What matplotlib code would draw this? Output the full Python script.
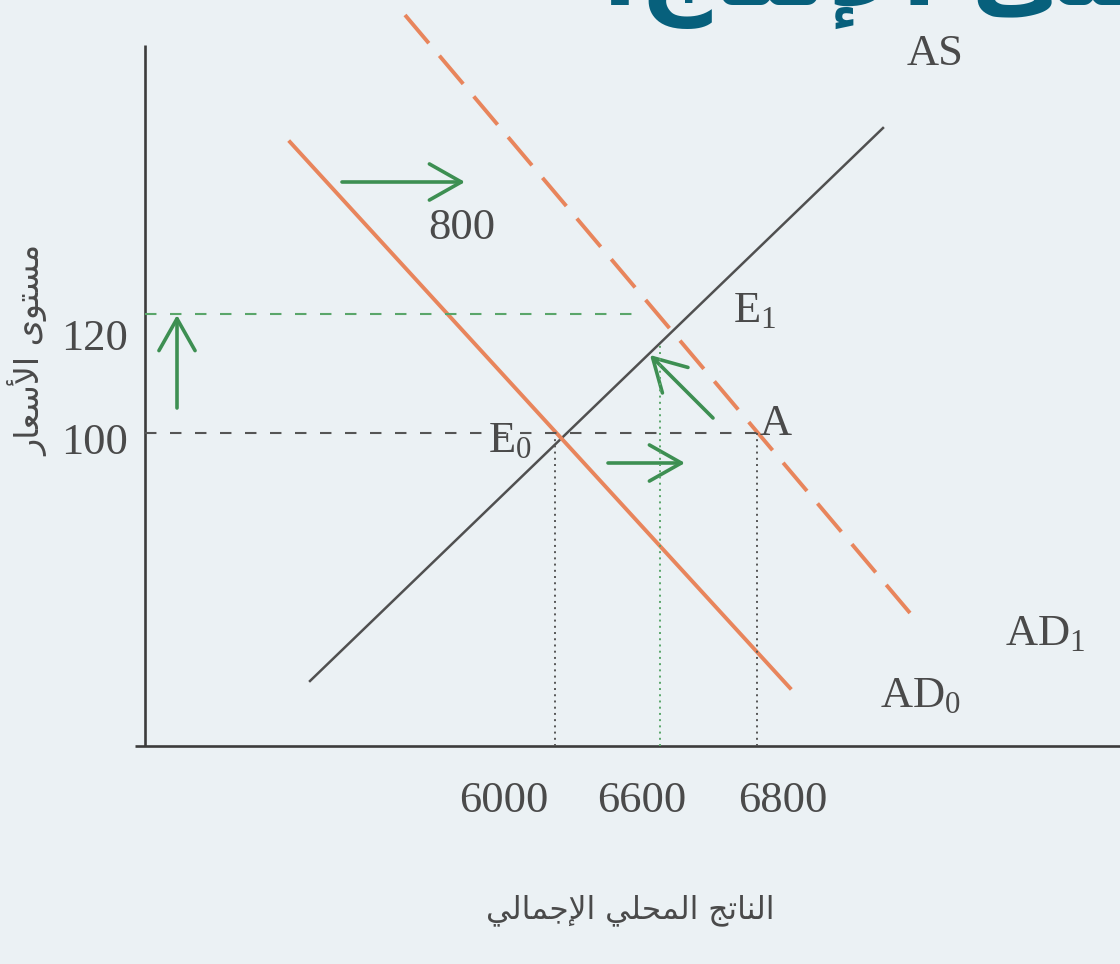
import matplotlib
matplotlib.use("Agg")
import matplotlib.pyplot as plt
from matplotlib.patches import FancyArrowPatch

# ---------------- data (schematic AS/AD diagram, axis units) ----------------
gdp_labels = ["6000", "6600", "6800"]
price_labels = ["100", "120"]
shift_label = "800"

as_x = [165, 738]
as_y = [65, 618]
ad0_x = [145, 645]
ad0_y = [604, 58]
ad1_x = [260, 765]
ad1_y = [731, 133]

q_e0, q_e1, q_a = 410, 515, 612      # output levels of E0, E1, A
p_100, p_120 = 313, 432              # price levels
e1_drop_top = 401

# Arabic text (logical order, contextual presentation forms)
ylabel_logical = "\uFEE3\uFEB4\uFE98\uFEEE\uFEEF \uFE8D\uFEF7\uFEB3\uFECC\uFE8E\uFEAD"
xlabel_logical = ("\uFE8D\uFEDF\uFEE8\uFE8E\uFE97\uFE9E \uFE8D\uFEDF\uFEE4\uFEA4\uFEE0\uFEF2 "
                  "\uFE8D\uFEF9\uFE9F\uFEE4\uFE8E\uFEDF\uFEF2")
title_logical = "\uFECB\uFEE0\uFEF0 \uFE8D\uFEF9\uFEE7\uFE98\uFE8E\uFE9D:"

def visual(s):
    return s[::-1]

# ---------------- styling ----------------
plt.rcParams['mathtext.fontset'] = 'custom'
plt.rcParams['mathtext.rm'] = 'Liberation Serif'
plt.rcParams['mathtext.it'] = 'Liberation Serif:italic'

BG = '#ebf1f4'
INK = '#4a4a4a'
AXC = '#3c3c3c'
ORANGE = '#e8855c'
GREEN = '#3d8f52'
GREEN_L = '#5aa66a'
TEAL = '#07607c'
SERIF = 'Liberation Serif'

W, H = 1120, 964
fig = plt.figure(figsize=(W / 100, H / 100), dpi=100, facecolor=BG)
ax = fig.add_axes([145 / W, 218 / H, 975 / W, 701 / H])
ax.set_facecolor('none')
ax.set_xlim(0, 975)
ax.set_ylim(0, 701)
for s in ax.spines.values():
    s.set_visible(False)

# axes lines
ax.plot([0, 0], [0, 701], color=AXC, lw=1.9, clip_on=False, solid_capstyle='butt')
ax.plot([-10, 975], [0, 0], color=AXC, lw=1.9, clip_on=False, solid_capstyle='butt')

# ticks as labels
ax.set_xticks([359, 497, 638], gdp_labels)
ax.set_yticks([308, 411], price_labels)
ax.tick_params(axis='x', length=0, pad=25, labelsize=32, labelcolor=INK)
ax.tick_params(axis='y', length=0, pad=12, labelsize=32, labelcolor=INK)
for lab in ax.get_xticklabels() + ax.get_yticklabels():
    lab.set_fontfamily(SERIF)

# curves
ax.plot(as_x, as_y, color='#505050', lw=1.8, clip_on=False)
ax.plot(ad0_x, ad0_y, color=ORANGE, lw=2.8, clip_on=False)
ax.plot(ad1_x, ad1_y, color=ORANGE, lw=2.8, dashes=(9.5, 4.2), clip_on=False)

# reference lines
ax.plot([0, q_a], [p_100, p_100], color='#555555', lw=1.5, dashes=(5.5, 6.5))
ax.plot([0, 498], [p_120, p_120], color=GREEN_L, lw=1.5, dashes=(5.5, 6.5))
ax.plot([q_e0, q_e0], [0, p_100 - 6], color='#555555', lw=1.4, dashes=(1, 2.2))
ax.plot([q_a, q_a], [0, p_100], color='#555555', lw=1.4, dashes=(1, 2.2))
ax.plot([q_e1, q_e1], [0, e1_drop_top], color=GREEN_L, lw=1.4, dashes=(1, 2.2))

# arrows
def arrow(p0, p1):
    a = FancyArrowPatch(p0, p1, transform=ax.transData,
                        arrowstyle='->,head_length=23,head_width=13',
                        mutation_scale=1, color=GREEN, lw=2.6,
                        shrinkA=0, shrinkB=0, clip_on=False)
    ax.add_patch(a)

arrow((197, 564), (320, 564))
arrow((32, 338), (32, 431))
arrow((568, 328), (505, 391))
arrow((463, 283), (540, 283))

# labels
tkw = dict(color=INK, fontsize=32, fontfamily=SERIF)
ax.text(790, 692, "AS", ha='center', va='center', **tkw)
ax.text(317, 518, shift_label, ha='center', va='center', **tkw)
ax.text(588, 424, r'$\mathrm{E}_{1}$', ha='left', va='baseline', **tkw)
ax.text(343, 294, r'$\mathrm{E}_{0}$', ha='left', va='baseline', **tkw)
ax.text(615, 311, "A", ha='left', va='baseline', **tkw)
ax.text(860, 101, r'$\mathrm{AD}_{1}$', ha='left', va='baseline', **tkw)
ax.text(735, 39, r'$\mathrm{AD}_{0}$', ha='left', va='baseline', **tkw)

# Arabic axis titles
fig.text(28 / W, 1 - 350 / H, visual(ylabel_logical), rotation=90,
         ha='center', va='center', fontsize=24, color=INK, fontfamily='DejaVu Sans')
fig.text(630 / W, 1 - 910 / H, visual(xlabel_logical),
         ha='center', va='center', fontsize=22.5, color=INK, fontfamily='DejaVu Sans')

# cut-off heading at the top (as in the source scan)
fig.text(600 / W, 1 - 5 / H, visual(title_logical), ha='left', va='baseline',
         fontsize=72, color=TEAL, fontweight='bold', fontfamily='DejaVu Sans')

fig.savefig('out.png', dpi=100, facecolor=BG)
